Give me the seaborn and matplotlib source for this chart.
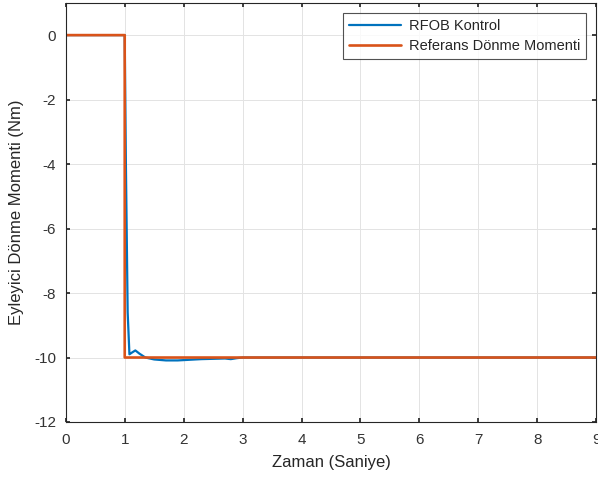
import matplotlib
matplotlib.use("Agg")
import matplotlib.pyplot as plt
import numpy as np
import pandas as pd
import seaborn as sns

# RFOB controller response
t_rfob = [0.0, 1.0, 1.02, 1.05, 1.08, 1.12, 1.18, 1.25, 1.35, 1.5, 1.7, 1.9,
          2.1, 2.3, 2.5, 2.7, 2.8, 2.9, 3.0, 9.0]
tq_rfob = [0.0, 0.0, -4.0, -8.6, -9.9, -9.85, -9.78, -9.88, -10.0, -10.06, -10.09, -10.09,
           -10.07, -10.05, -10.04, -10.03, -10.05, -10.02, -10.0, -10.0]

# reference torque step
t_ref = [0.0, 1.0, 1.0, 9.0]
tq_ref = [0.0, 0.0, -10.0, -10.0]

labels = ["RFOB Kontrol", "Referans Dönme Momenti"]
colors = ["#0072BD", "#D95319"]

x_ticks = list(range(0, 10))
y_ticks = list(range(-12, 1, 2))

sns.set_theme(style="white")
plt.rcParams["font.family"] = ["Liberation Sans", "DejaVu Sans"]
plt.rcParams["axes.unicode_minus"] = False

df = pd.concat([
    pd.DataFrame({"t": t_rfob, "tq": tq_rfob, "series": labels[0]}),
    pd.DataFrame({"t": t_ref, "tq": tq_ref, "series": labels[1]}),
], ignore_index=True)

fig = plt.figure(figsize=(5.98, 4.79), dpi=100)
ax = fig.add_axes([0.110, 0.119, 0.887, 0.875])

for lab, col, lw in zip(labels, colors, [1.6, 1.9]):
    sub = df[df["series"] == lab]
    sns.lineplot(data=sub, x="t", y="tq", estimator=None, sort=False,
                 color=col, linewidth=lw, label=lab, ax=ax, snap=False)

ax.set_xlim(0, 9)
ax.set_ylim(-12, 1)
ax.set_xticks(x_ticks)
ax.set_yticks(y_ticks)
ax.grid(True, color="#e3e3e3", linewidth=0.7)
ax.set_axisbelow(True)
ax.tick_params(direction="in", length=3, color="#262626", labelcolor="#333333",
               labelsize=11, top=True, right=True, bottom=True, left=True)
ax.tick_params(axis="x", pad=8)
ax.tick_params(axis="y", pad=7)
for sp in ax.spines.values():
    sp.set_color("#262626")
    sp.set_linewidth(0.8)

ax.set_xlabel("Zaman (Saniye)", fontsize=12, color="#262626", labelpad=6)
ax.set_ylabel("Eyleyici Dönme Momenti (Nm)", fontsize=12, color="#262626", labelpad=7)

leg = ax.legend(loc="upper right", fontsize=10.5, frameon=True, fancybox=False,
                borderaxespad=0.7, handlelength=3.6, borderpad=0.4, labelspacing=0.45,
                handletextpad=0.5)
leg.get_frame().set_edgecolor("#262626")
leg.get_frame().set_linewidth(0.8)

fig.savefig("out.png", dpi=100)
